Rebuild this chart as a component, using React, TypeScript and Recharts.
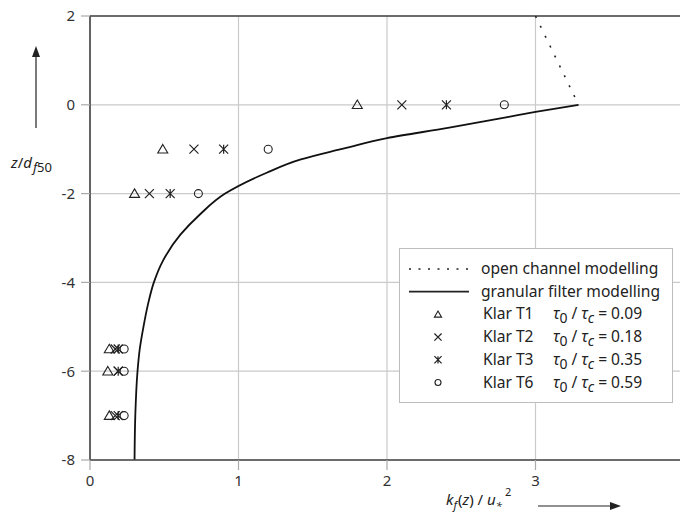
import React from 'react';
import { ComposedChart, Line, Scatter, XAxis, YAxis, CartesianGrid, ReferenceLine, Legend } from 'recharts';

// granular filter modelling curve
const curveX = [0.30, 0.305, 0.32, 0.335, 0.36, 0.39, 0.43, 0.49, 0.61, 0.74, 0.91, 1.19, 1.42, 1.69, 2.0, 2.41, 2.82, 3.0, 3.29];
const curveZ = [-8, -7, -6, -5.5, -5, -4.5, -4, -3.52, -2.92, -2.47, -2.0, -1.53, -1.23, -1.0, -0.75, -0.52, -0.27, -0.16, 0];

// open channel modelling (dotted)
const openX = [3.0, 3.29];
const openZ = [2, 0];

// measurement levels and the four runs
const levelsZ = [0, -1, -2, -5.5, -6, -7];
const t1X = [1.8, 0.49, 0.30, 0.13, 0.12, 0.13];
const t2X = [2.1, 0.70, 0.40, 0.17, 0.19, 0.17];
const t3X = [2.4, 0.90, 0.54, 0.19, 0.19, 0.19];
const t6X = [2.79, 1.20, 0.73, 0.23, 0.23, 0.23];

const seriesNames = ['Klar T1', 'Klar T2', 'Klar T3', 'Klar T6'];
const tauRatios = ['0.09', '0.18', '0.35', '0.59'];
const lineNames = ['open channel modelling', 'granular filter modelling'];

const xTicks = [0, 1, 2, 3];
const yTicks = [-8, -6, -4, -2, 0, 2];

const toPoints = (xs: number[], zs: number[]) => xs.map((x, i) => ({ x, z: zs[i] }));

const FONT = '"Noto Sans", sans-serif';
const INK = '#222';

const Triangle = ({ cx, cy, s = 5 }: any) => (
  <path d={`M${cx},${cy - s * 0.95} L${cx + s},${cy + s * 0.75} L${cx - s},${cy + s * 0.75} Z`} fill="none" stroke={INK} strokeWidth={1.1} />
);
const Cross = ({ cx, cy, s = 4.5 }: any) => (
  <path d={`M${cx - s},${cy - s} L${cx + s},${cy + s} M${cx - s},${cy + s} L${cx + s},${cy - s}`} stroke={INK} strokeWidth={1.2} />
);
const Star = ({ cx, cy, s = 4.5 }: any) => (
  <path d={`M${cx - s},${cy - s} L${cx + s},${cy + s} M${cx - s},${cy + s} L${cx + s},${cy - s} M${cx},${cy - s} L${cx},${cy + s}`} stroke={INK} strokeWidth={1.2} />
);
const Ring = ({ cx, cy, s = 4 }: any) => <circle cx={cx} cy={cy} r={s} fill="none" stroke={INK} strokeWidth={1.1} />;

const markers = [Triangle, Cross, Star, Ring];

const LegendBox = () => {
  const rowY = (i: number) => 20 + i * 22.7;
  return (
    <div style={{ width: 274, height: 155, border: '1px solid #bdbdbd', background: '#fff', boxSizing: 'border-box' }}>
      <svg width={272} height={153} style={{ fontFamily: FONT, fontSize: 15.6, fill: INK }}>
        <line x1={9} x2={69} y1={rowY(0)} y2={rowY(0)} stroke={INK} strokeWidth={1.4} strokeDasharray="2 7.5" />
        <line x1={9} x2={69} y1={rowY(1)} y2={rowY(1)} stroke={INK} strokeWidth={1.8} />
        {lineNames.map((n, i) => (
          <text key={n} x={81} y={rowY(i) + 5}>{n}</text>
        ))}
        {seriesNames.map((n, i) => {
          const M = markers[i];
          const y = rowY(i + 2);
          return (
            <g key={n}>
              <M cx={38} cy={y} s={i === 3 ? 3 : 3.6} />
              <text x={83} y={y + 5}>{n}</text>
              <text x={153} y={y + 5}>
                <tspan fontStyle="italic">τ</tspan>
                <tspan dy={4} fontSize={14}>0</tspan>
                <tspan dy={-4}>{' / '}</tspan>
                <tspan fontStyle="italic">τ</tspan>
                <tspan dy={4} fontSize={14} fontStyle="italic">c</tspan>
                <tspan dy={-4}>{` = ${tauRatios[i]}`}</tspan>
              </text>
            </g>
          );
        })}
      </svg>
    </div>
  );
};

const Titles = () => (
  <svg width={680} height={515} style={{ position: 'absolute', left: 0, top: 0, pointerEvents: 'none', fontFamily: FONT, fill: INK }}>
    {/* y title with arrow */}
    <line x1={36} y1={128} x2={36} y2={55} stroke={INK} strokeWidth={1.2} />
    <path d="M36,46 L32,57 L40,57 Z" fill={INK} />
    <text x={11} y={168} fontSize={15}>
      <tspan fontStyle="italic">z</tspan>
      <tspan>/</tspan>
      <tspan fontStyle="italic">d</tspan>
      <tspan dx={1} dy={4} fontSize={13} fontStyle="italic">f</tspan>
      <tspan fontSize={13}>50</tspan>
    </text>
    {/* x title with arrow */}
    <text x={446} y={505} fontSize={15}>
      <tspan fontStyle="italic">k</tspan>
      <tspan dy={4} fontSize={11} fontStyle="italic">f</tspan>
      <tspan dx={1} dy={-4}>(</tspan>
      <tspan fontStyle="italic">z</tspan>
      <tspan>) / </tspan>
      <tspan fontStyle="italic">u</tspan>
      <tspan dy={5} fontSize={11} fontStyle="italic">*</tspan>
    </text>
    <text x={505} y={496} fontSize={11}>2</text>
    <line x1={538} y1={506} x2={612} y2={506} stroke={INK} strokeWidth={1.2} />
    <path d="M621,506 L610,502 L610,510 Z" fill={INK} />
  </svg>
);

export default function App() {
  const tick = { fill: '#333', fontSize: 15, fontFamily: FONT };
  const runs = [t1X, t2X, t3X, t6X];
  return (
    <div style={{ position: 'absolute', left: 0, top: 0, width: 680, height: 515, overflow: 'hidden', background: '#fff' }}>
      <ComposedChart width={700} height={515} margin={{ top: 16, right: 16, bottom: 25, left: 30 }}>
        <CartesianGrid stroke="#cacaca" strokeWidth={1.2} />
        <XAxis
          type="number"
          dataKey="x"
          domain={[0, 4]}
          ticks={xTicks}
          height={30}
          tickSize={10}
          tickMargin={5}
          axisLine={{ stroke: '#444', strokeWidth: 1.6 }}
          tickLine={{ stroke: '#aaa', strokeWidth: 1.2 }}
          tick={tick}
        />
        <YAxis
          type="number"
          dataKey="z"
          domain={[-8, 2]}
          ticks={yTicks}
          width={60}
          tickSize={9}
          tickMargin={6}
          axisLine={{ stroke: '#444', strokeWidth: 1.6 }}
          tickLine={{ stroke: '#aaa', strokeWidth: 1.2 }}
          tick={tick}
        />
        <ReferenceLine y={2} stroke="#444" strokeWidth={1.6} />
        <Line
          data={toPoints(openX, openZ)}
          dataKey="z"
          type="linear"
          stroke={INK}
          strokeWidth={1.6}
          strokeDasharray="2 9"
          dot={false}
          isAnimationActive={false}
        />
        <Line
          data={toPoints(curveX, curveZ)}
          dataKey="z"
          type="monotoneY"
          stroke="#111"
          strokeWidth={1.8}
          dot={false}
          isAnimationActive={false}
        />
        {runs.map((xs, i) => {
          const M = markers[i];
          return (
            <Scatter
              key={seriesNames[i]}
              name={seriesNames[i]}
              data={toPoints(xs, levelsZ)}
              dataKey="z"
              shape={(p: any) => <M cx={p.cx} cy={p.cy} />}
              isAnimationActive={false}
            />
          );
        })}
        <Legend
          layout="vertical"
          align="center"
          verticalAlign="middle"
          content={() => <LegendBox />}
          wrapperStyle={{ left: 399, top: 248, width: 274 }}
        />
      </ComposedChart>
      <Titles />
    </div>
  );
}
